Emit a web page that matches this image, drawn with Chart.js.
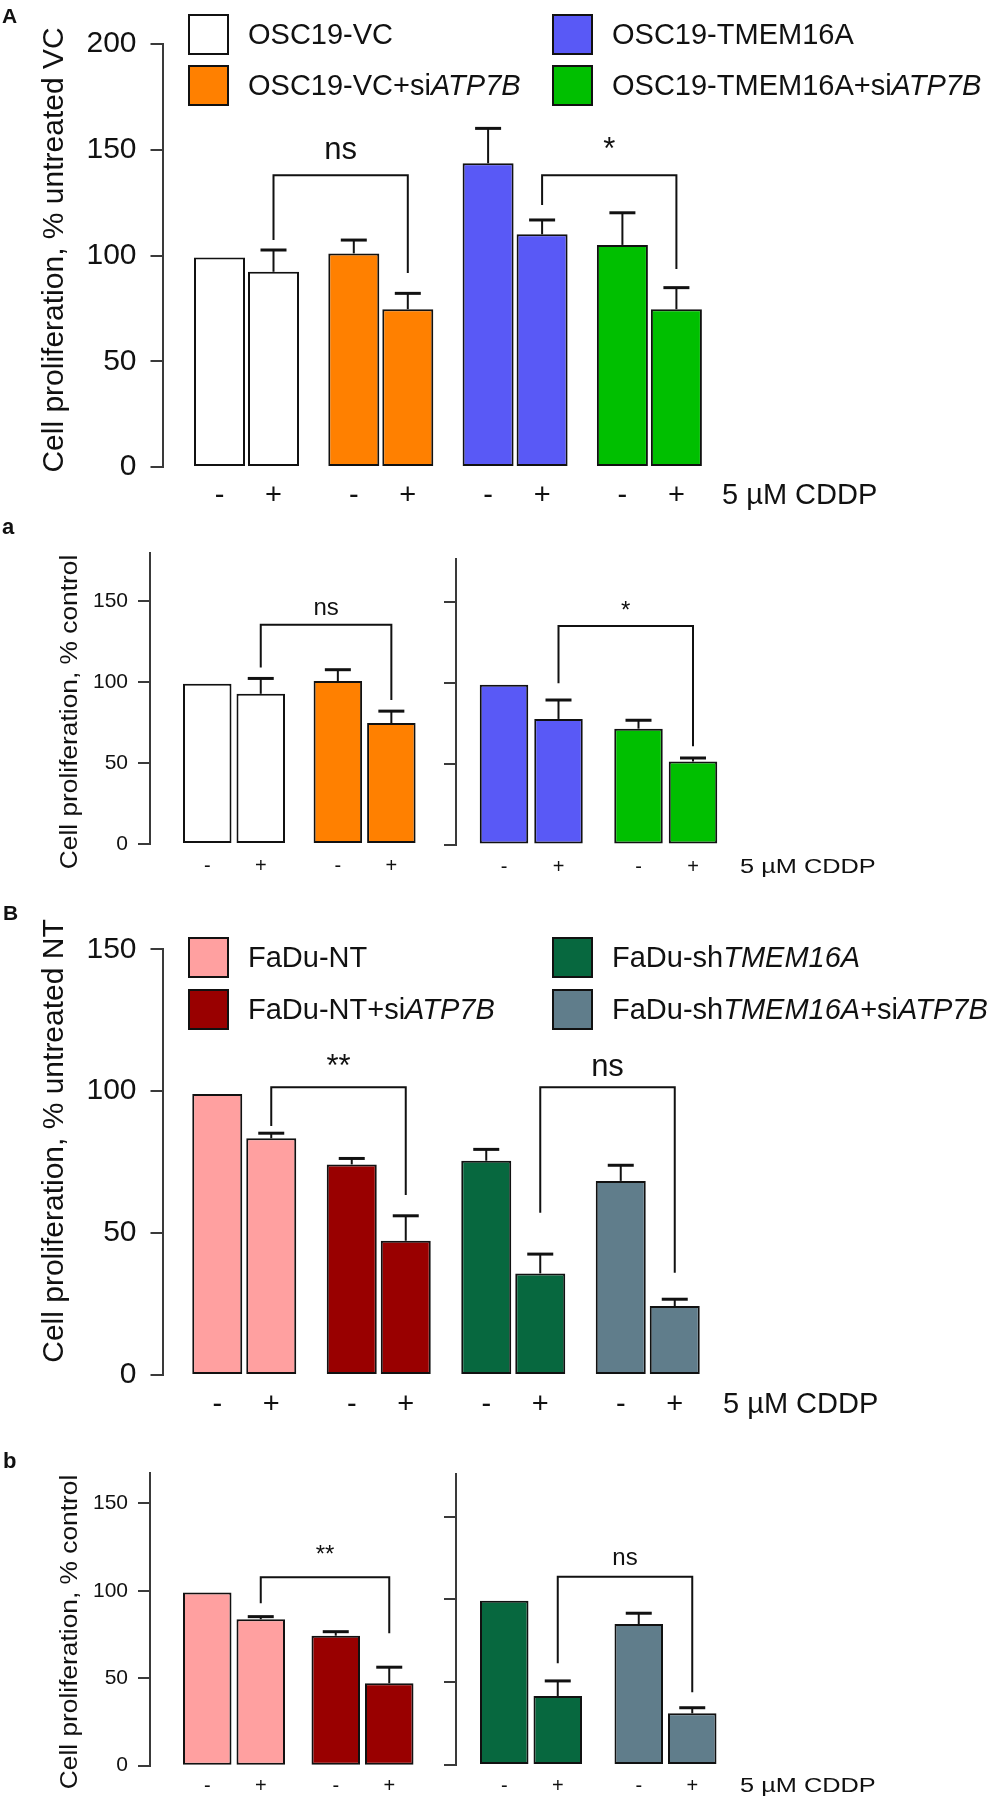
<!DOCTYPE html>
<html>
<head>
<meta charset="utf-8">
<script src="https://cdn.jsdelivr.net/npm/chart.js@4.4.1/dist/chart.umd.min.js"></script>
<style>
  body { margin: 0; background: #fff; overflow: hidden; }
  #fig { position: relative; width: 990px; height: 1800px; font-family: "Liberation Sans", Arial, sans-serif; color: #111; }
  #fig canvas { position: absolute; }
  .key { position: absolute; display: flex; align-items: center; height: 41px; font-size: 29px; white-space: nowrap; }
  .key .box { width: 37px; height: 37px; border: 2px solid #111; margin-right: 19px; flex: none; }
</style>
</head>
<body>
<div id="fig">
  <canvas id="cA" width="990" height="520"></canvas>
  <canvas id="caL" width="440" height="380"></canvas>
  <canvas id="caR" width="570" height="380"></canvas>
  <canvas id="cB" width="990" height="530"></canvas>
  <canvas id="cbL" width="440" height="380"></canvas>
  <canvas id="cbR" width="570" height="380"></canvas>
</div>
<script>
var FF = '"Liberation Sans", Arial, Helvetica, sans-serif';

// y ticks shared by all panels
var yTicks = [0, 50, 100, 150, 200];

// OSC19 cells (panels A and a)
var groupsOSC = ['OSC19-VC', 'OSC19-VC+siATP7B', 'OSC19-TMEM16A', 'OSC19-TMEM16A+siATP7B'];
var colorsOSC = ['#ffffff', '#ff8000', '#5959f6', '#00bf00'];
var oscUntreated = [99, 101, 143.6, 105];
var oscUntreatedErr = [0, 6.3, 16.5, 15.2];
var oscCddp = [92.3, 74.6, 110, 74.6];
var oscCddpErr = [10.3, 7.5, 6.8, 10.2];
// % of own control
var oscRelUntreated = [99, 100.7, 98.6, 71.5];
var oscRelUntreatedErr = [0, 7, 0, 5.2];
var oscRelCddp = [92.8, 74.7, 77.5, 51.3];
var oscRelCddpErr = [9.5, 7.4, 11.7, 2.1];

// FaDu cells (panels B and b)
var groupsFaDu = ['FaDu-NT', 'FaDu-NT+siATP7B', 'FaDu-shTMEM16A', 'FaDu-shTMEM16A+siATP7B'];
var colorsFaDu = ['#ffa0a0', '#990000', '#07683f', '#607d8b'];
var faduUntreated = [99, 74.2, 75.5, 68.4];
var faduUntreatedErr = [0, 2.1, 4, 5.5];
var faduCddp = [83.4, 47.3, 35.8, 24.3];
var faduCddpErr = [1.8, 8.8, 6.8, 2.4];
var faduRelUntreated = [99, 74.3, 99.3, 85.2];
var faduRelUntreatedErr = [0, 2.3, 0, 6.5];
var faduRelCddp = [83.7, 47.1, 41.7, 31.2];
var faduRelCddpErr = [1.5, 9.2, 9.1, 3.4];

// significance brackets between the "+" bars of two groups
var bracketsA = [
    { from: 0, to: 1, top: 138, leftEnd: 107.3, rightEnd: 91.7, label: 'ns' },
    { from: 2, to: 3, top: 138, leftEnd: 123.9, rightEnd: 93.6, label: '*' }
];
var bracketsaL = [{ from: 0, to: 1, top: 135.5, leftEnd: 109.1, rightEnd: 89, label: 'ns' }];
var bracketsaR = [{ from: 0, to: 1, top: 134.9, leftEnd: 99.6, rightEnd: 60.6, label: '*' }];
var bracketsB = [
    { from: 0, to: 1, top: 101.4, leftEnd: 87.7, rightEnd: 63.4, label: '**' },
    { from: 2, to: 3, top: 101.4, leftEnd: 57.2, rightEnd: 36, label: 'ns' }
];
var bracketsbL = [{ from: 0, to: 1, top: 107.7, leftEnd: 92.9, rightEnd: 75.7, label: '**' }];
var bracketsbR = [{ from: 0, to: 1, top: 113.8, leftEnd: 61.5, rightEnd: 43.9, label: 'ns' }];

function putText(ctx, s, x, y, font, align, sx, rot) {
    ctx.save();
    ctx.translate(x, y);
    if (rot) ctx.rotate(-Math.PI / 2);
    ctx.scale(sx || 1, 1);
    ctx.font = font;
    ctx.fillStyle = '#111';
    ctx.textAlign = align || 'left';
    ctx.textBaseline = 'alphabetic';
    ctx.fillText(s, 0, 0);
    ctx.restore();
}

var annot = {
    id: 'annot',
    afterDatasetsDraw: function(chart, args, o) {
        var ctx = chart.ctx, ys = chart.scales.y;
        ctx.save();
        ctx.strokeStyle = '#111';
        o.errors.forEach(function(errs, di) {
            var vals = chart.data.datasets[di].data;
            chart.getDatasetMeta(di).data.forEach(function(bar, i) {
                if (!errs[i]) return;
                var yt = ys.getPixelForValue(vals[i] + errs[i]);
                ctx.lineWidth = 2;
                ctx.beginPath(); ctx.moveTo(bar.x, bar.y); ctx.lineTo(bar.x, yt); ctx.stroke();
                ctx.lineWidth = 3;
                ctx.beginPath(); ctx.moveTo(bar.x - 13, yt); ctx.lineTo(bar.x + 13, yt); ctx.stroke();
            });
        });
        var plus = chart.getDatasetMeta(1).data;
        ctx.lineWidth = 2;
        o.brackets.forEach(function(b) {
            var x1 = plus[b.from].x, x2 = plus[b.to].x, yt = ys.getPixelForValue(b.top);
            ctx.beginPath();
            ctx.moveTo(x1, ys.getPixelForValue(b.leftEnd));
            ctx.lineTo(x1, yt);
            ctx.lineTo(x2, yt);
            ctx.lineTo(x2, ys.getPixelForValue(b.rightEnd));
            ctx.stroke();
            putText(ctx, b.label, (x1 + x2) / 2, yt - o.sigGap, o.sigFont, 'center');
        });
        ctx.restore();
    },
    afterDraw: function(chart, args, o) {
        var ctx = chart.ctx, base = chart.chartArea.bottom + o.signDy;
        [0, 1].forEach(function(di) {
            chart.getDatasetMeta(di).data.forEach(function(bar) {
                putText(ctx, di ? '+' : '-', bar.x, base, o.signFont, 'center');
            });
        });
        ctx.save();
        ctx.translate(-o.pos[0], -o.pos[1]);
        if (o.cddpX) putText(ctx, '5 µM CDDP', o.cddpX, base + o.pos[1], o.cddpFont, 'left', o.cddpSx);
        if (o.title) putText(ctx, o.title, o.titleX, o.titleY, o.titleFont, 'center', o.titleSx, true);
        if (o.letter) putText(ctx, o.letter, o.letterX, o.letterY, 'bold ' + o.letterSize + 'px ' + FF, 'left');
        ctx.restore();
    }
};

function makeChart(id, p) {
    var canvas = document.getElementById(id);
    canvas.style.left = p.pos[0] + 'px';
    canvas.style.top = p.pos[1] + 'px';
    var W = canvas.width, H = canvas.height;
    var right = p.firstCenter + (p.labels.length - 0.5) * p.spacing;

    return new Chart(canvas, {
        type: 'bar',
        data: {
            labels: p.labels,
            datasets: [
                { label: 'untreated', data: p.ctrl, backgroundColor: p.colors },
                { label: '5 µM CDDP', data: p.cddp, backgroundColor: p.colors }
            ]
        },
        options: {
            responsive: false,
            animation: false,
            events: [],
            layout: { padding: { left: 0, top: p.top, right: W - right, bottom: 0 } },
            datasets: {
                bar: {
                    borderColor: '#111',
                    borderWidth: 2,
                    borderSkipped: false,
                    categoryPercentage: 2 * p.slot / p.spacing,
                    barPercentage: p.bar / p.slot
                }
            },
            scales: {
                x: {
                    ticks: { display: false },
                    grid: { display: false },
                    border: { display: false },
                    afterFit: function(s) { s.height = H - p.zero; },
                    // leave a gap between the y axis and the first group
                    afterBuildTicks: function(s) {
                        s._startValue = -(p.firstCenter - p.axisX) / p.spacing;
                        s._valueRange = (right - p.axisX) / p.spacing;
                    }
                },
                y: {
                    min: 0,
                    max: p.max,
                    bounds: 'data',
                    afterFit: function(s) { s.width = p.axisX; },
                    afterBuildTicks: function(s) {
                        s.ticks = yTicks.filter(function(v) { return v <= p.max; }).map(function(v) { return { value: v }; });
                    },
                    ticks: {
                        includeBounds: false,
                        stepSize: 50,
                        font: { family: FF, size: p.tickSize },
                        color: p.hideLabels ? 'rgba(0,0,0,0)' : '#111',
                        padding: p.tickPad
                    },
                    grid: { drawOnChartArea: false, drawTicks: true, tickLength: 12, color: '#3a3a3a', lineWidth: 2 },
                    border: { display: true, color: '#3a3a3a', width: 2 }
                }
            },
            plugins: {
                legend: { display: false },
                tooltip: { enabled: false },
                annot: {
                    pos: p.pos,
                    errors: [p.ctrlErr, p.cddpErr],
                    brackets: p.brackets,
                    sigFont: p.sigSize + 'px ' + FF,
                    sigGap: p.sigGap,
                    signFont: p.signSize + 'px ' + FF,
                    signDy: p.signDy,
                    cddpX: p.cddpX || 0,
                    cddpFont: (p.cddpSize || 20) + 'px ' + FF,
                    cddpSx: p.cddpSx || 1,
                    title: p.title || '',
                    titleX: p.titleX || 0,
                    titleY: p.titleY || 0,
                    titleFont: (p.titleSize || 20) + 'px ' + FF,
                    titleSx: p.titleSx || 1,
                    letter: p.letter || '',
                    letterX: p.letterX || 0,
                    letterY: p.letterY || 0,
                    letterSize: p.letterSize || 21
                }
            }
        },
        plugins: [annot]
    });
}

function addLegend(groups, colors, x1, x2, y1, y2) {
    var fig = document.getElementById('fig');
    var spots = [[x1, y1], [x1, y2], [x2, y1], [x2, y2]];
    groups.forEach(function(g, i) {
        var item = document.createElement('div');
        item.className = 'key';
        item.style.left = spots[i][0] + 'px';
        item.style.top = spots[i][1] + 'px';
        var html = g.replace(/(si|sh)(ATP7B|TMEM16A)/g, '$1<i>$2</i>');
        item.innerHTML = '<span class="box" style="background:' + colors[i] + '"></span><span>' + html + '</span>';
        fig.appendChild(item);
    });
}

// panel A
makeChart('cA', {
    pos: [0, 0], labels: groupsOSC, colors: colorsOSC,
    ctrl: oscUntreated, ctrlErr: oscUntreatedErr, cddp: oscCddp, cddpErr: oscCddpErr,
    brackets: bracketsA, max: 200, top: 44, zero: 467, axisX: 162.5,
    firstCenter: 246.5, spacing: 134.3, slot: 54, bar: 51,
    tickSize: 30, tickPad: 14, sigSize: 31, sigGap: 16, signSize: 29, signDy: 37,
    cddpX: 722, cddpSize: 29,
    title: 'Cell proliferation, % untreated VC', titleX: 63, titleY: 250, titleSize: 30,
    letter: 'A', letterX: 2, letterY: 23, letterSize: 21
});
addLegend(groupsOSC, colorsOSC, 188, 552, 14, 65);

// panel a
makeChart('caL', {
    pos: [0, 520], labels: groupsOSC.slice(0, 2), colors: colorsOSC.slice(0, 2),
    ctrl: oscRelUntreated.slice(0, 2), ctrlErr: oscRelUntreatedErr.slice(0, 2),
    cddp: oscRelCddp.slice(0, 2), cddpErr: oscRelCddpErr.slice(0, 2),
    brackets: bracketsaL, max: 180, top: 32.7, zero: 324, axisX: 150,
    firstCenter: 234, spacing: 130.6, slot: 53.5, bar: 48.5,
    tickSize: 21, tickPad: 10, sigSize: 24, sigGap: 10, signSize: 20, signDy: 28,
    title: 'Cell proliferation, % control', titleX: 77, titleY: 712, titleSize: 23.5, titleSx: 1.12,
    letter: 'a', letterX: 2, letterY: 534, letterSize: 22
});
makeChart('caR', {
    pos: [420, 520], labels: groupsOSC.slice(2), colors: colorsOSC.slice(2),
    ctrl: oscRelUntreated.slice(2), ctrlErr: oscRelUntreatedErr.slice(2),
    cddp: oscRelCddp.slice(2), cddpErr: oscRelCddpErr.slice(2),
    brackets: bracketsaR, max: 176, top: 39.4, zero: 324.5, axisX: 36, hideLabels: true,
    firstCenter: 111.25, spacing: 134.5, slot: 54.5, bar: 48.5,
    tickSize: 21, tickPad: 10, sigSize: 24, sigGap: 8, signSize: 20, signDy: 28,
    cddpX: 740, cddpSize: 19.5, cddpSx: 1.3
});

// panel B
makeChart('cB', {
    pos: [0, 890], labels: groupsFaDu, colors: colorsFaDu,
    ctrl: faduUntreated, ctrlErr: faduUntreatedErr, cddp: faduCddp, cddpErr: faduCddpErr,
    brackets: bracketsB, max: 150, top: 59.3, zero: 485, axisX: 162.5,
    firstCenter: 244.25, spacing: 134.5, slot: 54, bar: 50,
    tickSize: 30, tickPad: 14, sigSize: 31, sigGap: 11, signSize: 29, signDy: 38,
    cddpX: 723, cddpSize: 29,
    title: 'Cell proliferation, % untreated NT', titleX: 63, titleY: 1141, titleSize: 30,
    letter: 'B', letterX: 3, letterY: 920, letterSize: 21
});
addLegend(groupsFaDu, colorsFaDu, 188, 552, 937, 989);

// panel b
makeChart('cbL', {
    pos: [0, 1420], labels: groupsFaDu.slice(0, 2), colors: colorsFaDu.slice(0, 2),
    ctrl: faduRelUntreated.slice(0, 2), ctrlErr: faduRelUntreatedErr.slice(0, 2),
    cddp: faduRelCddp.slice(0, 2), cddpErr: faduRelCddpErr.slice(0, 2),
    brackets: bracketsbL, max: 167.3, top: 53, zero: 345.7, axisX: 150,
    firstCenter: 234, spacing: 128.5, slot: 53.5, bar: 48.5,
    tickSize: 21, tickPad: 10, sigSize: 24, sigGap: 15, signSize: 20, signDy: 26.5,
    title: 'Cell proliferation, % control', titleX: 77, titleY: 1632, titleSize: 23.5, titleSx: 1.12,
    letter: 'b', letterX: 3, letterY: 1468, letterSize: 22
});
makeChart('cbR', {
    pos: [420, 1420], labels: groupsFaDu.slice(2), colors: colorsFaDu.slice(2),
    ctrl: faduRelUntreated.slice(2), ctrlErr: faduRelUntreatedErr.slice(2),
    cddp: faduRelCddp.slice(2), cddpErr: faduRelCddpErr.slice(2),
    brackets: bracketsbR, max: 176, top: 53.7, zero: 345, axisX: 36, hideLabels: true,
    firstCenter: 111, spacing: 134.5, slot: 53.5, bar: 48.5,
    tickSize: 21, tickPad: 10, sigSize: 24, sigGap: 12, signSize: 20, signDy: 26.5,
    cddpX: 740, cddpSize: 19.5, cddpSx: 1.3
});
</script>
</body>
</html>
